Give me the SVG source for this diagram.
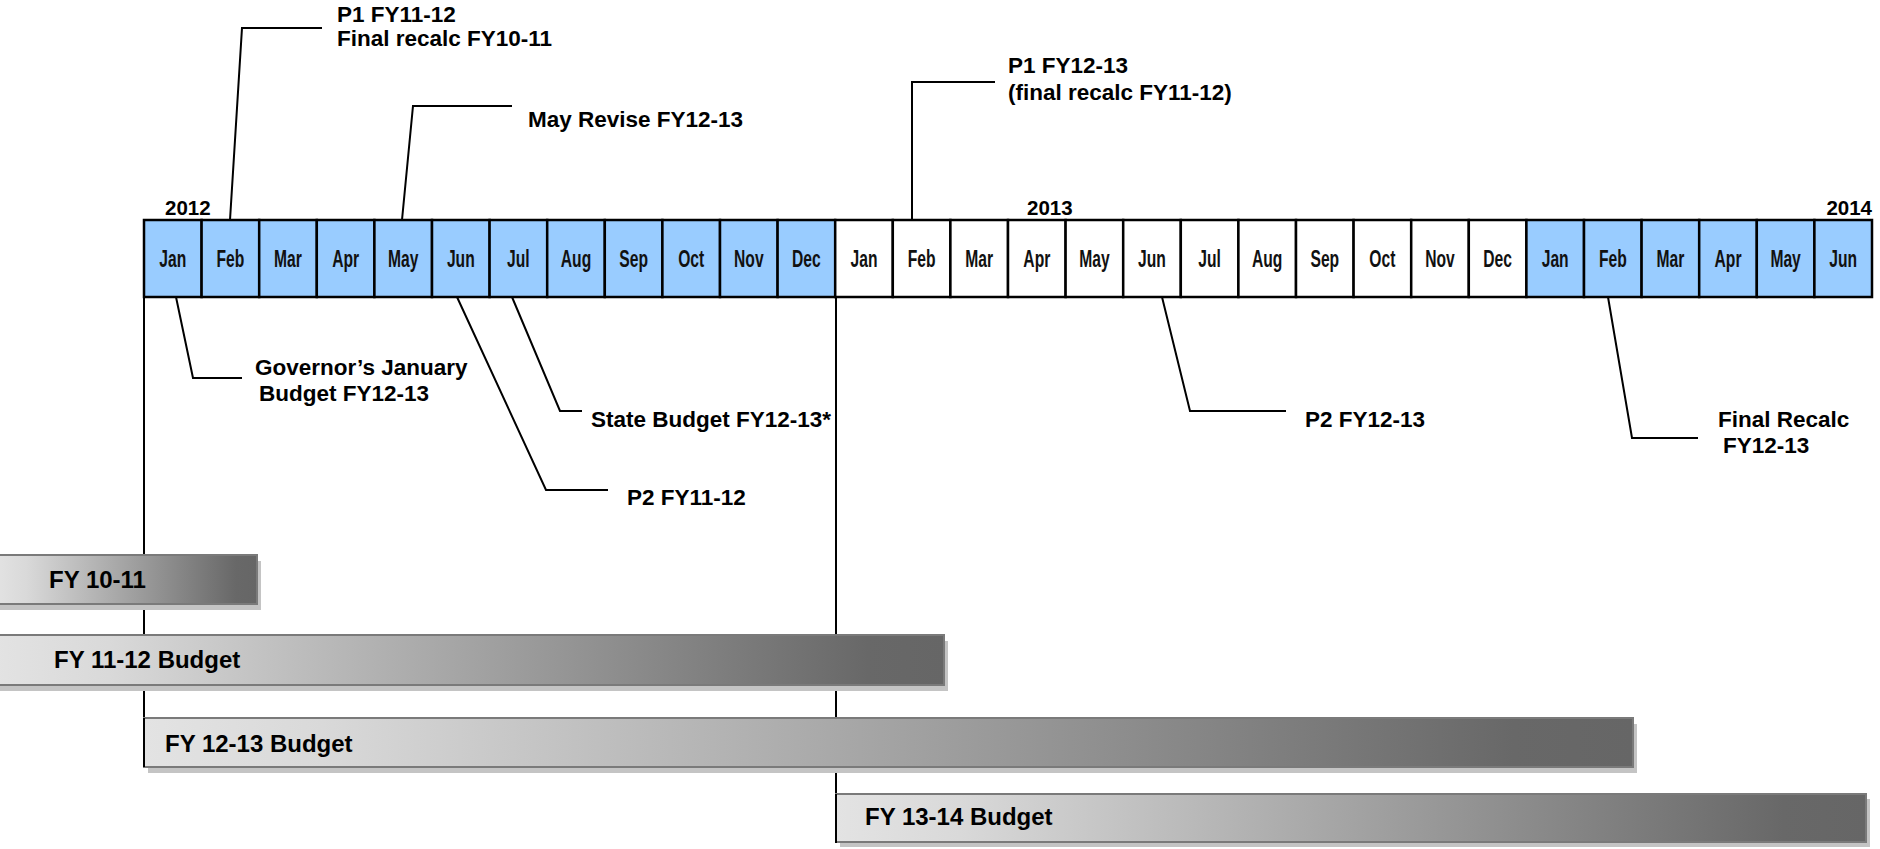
<svg xmlns="http://www.w3.org/2000/svg" width="1880" height="849" viewBox="0 0 1880 849">
<defs>
<style>
.lbl{font-family:"Liberation Sans",Arial,sans-serif;font-weight:bold;font-size:22.5px;fill:#000}
.yr{font-family:"Liberation Sans",Arial,sans-serif;font-weight:bold;font-size:20.5px;fill:#000}
.bl{font-family:"Liberation Sans",Arial,sans-serif;font-weight:bold;font-size:24px;fill:#000}
.mo{font-family:"Liberation Sans",Arial,sans-serif;font-weight:bold;font-size:23px;fill:#111;text-anchor:middle}
.cb{fill:#99CCFF;stroke:#000;stroke-width:2.5}
.cw{fill:#fff;stroke:#000;stroke-width:2.5}
.ln{fill:none;stroke:#000;stroke-width:2}
.bar{fill:url(#g);stroke:#7a7a7a;stroke-width:2}
.sh{fill:#c4c4c4}
</style>
<linearGradient id="g" x1="0" y1="0" x2="1" y2="0">
<stop offset="0" stop-color="#e3e3e3"/>
<stop offset="0.12" stop-color="#d9d9d9"/>
<stop offset="0.92" stop-color="#686868"/>
<stop offset="1" stop-color="#666"/>
</linearGradient>
</defs>
<rect width="1880" height="849" fill="#fff"/>

<g id="connectors">
<line class="ln" x1="144" y1="297" x2="144" y2="767"/>
<line class="ln" x1="836" y1="297" x2="836" y2="843"/>
<polyline class="ln" points="230,220 242,28 322,28"/>
<polyline class="ln" points="402,220 413,106 512,106"/>
<polyline class="ln" points="912,220 912,82 995,82"/>
<polyline class="ln" points="176,297 193,378 242,378"/>
<polyline class="ln" points="457,297 546,490 608,490"/>
<polyline class="ln" points="512,297 560,411 582,411"/>
<polyline class="ln" points="1162,297 1190,411 1286,411"/>
<polyline class="ln" points="1608,297 1632,438 1698,438"/>
</g>

<g id="years">
<text class="yr" x="165" y="215">2012</text>
<text class="yr" x="1027" y="215">2013</text>
<text class="yr" x="1872" y="215" text-anchor="end">2014</text>
</g>

<g id="timeline">
<rect class="cb" x="144" y="220" width="57.6" height="77"/>
<rect class="cb" x="201.6" y="220" width="57.6" height="77"/>
<rect class="cb" x="259.2" y="220" width="57.6" height="77"/>
<rect class="cb" x="316.8" y="220" width="57.6" height="77"/>
<rect class="cb" x="374.4" y="220" width="57.6" height="77"/>
<rect class="cb" x="432" y="220" width="57.6" height="77"/>
<rect class="cb" x="489.6" y="220" width="57.6" height="77"/>
<rect class="cb" x="547.2" y="220" width="57.6" height="77"/>
<rect class="cb" x="604.8" y="220" width="57.6" height="77"/>
<rect class="cb" x="662.4" y="220" width="57.6" height="77"/>
<rect class="cb" x="720" y="220" width="57.6" height="77"/>
<rect class="cb" x="777.6" y="220" width="57.6" height="77"/>
<rect class="cw" x="835.2" y="220" width="57.6" height="77"/>
<rect class="cw" x="892.8" y="220" width="57.6" height="77"/>
<rect class="cw" x="950.4" y="220" width="57.6" height="77"/>
<rect class="cw" x="1008" y="220" width="57.6" height="77"/>
<rect class="cw" x="1065.6" y="220" width="57.6" height="77"/>
<rect class="cw" x="1123.2" y="220" width="57.6" height="77"/>
<rect class="cw" x="1180.8" y="220" width="57.6" height="77"/>
<rect class="cw" x="1238.4" y="220" width="57.6" height="77"/>
<rect class="cw" x="1296" y="220" width="57.6" height="77"/>
<rect class="cw" x="1353.6" y="220" width="57.6" height="77"/>
<rect class="cw" x="1411.2" y="220" width="57.6" height="77"/>
<rect class="cw" x="1468.8" y="220" width="57.6" height="77"/>
<rect class="cb" x="1526.4" y="220" width="57.6" height="77"/>
<rect class="cb" x="1584" y="220" width="57.6" height="77"/>
<rect class="cb" x="1641.6" y="220" width="57.6" height="77"/>
<rect class="cb" x="1699.2" y="220" width="57.6" height="77"/>
<rect class="cb" x="1756.8" y="220" width="57.6" height="77"/>
<rect class="cb" x="1814.4" y="220" width="57.6" height="77"/>
<text class="mo" transform="translate(172.8,267) scale(0.68,1)">Jan</text>
<text class="mo" transform="translate(230.4,267) scale(0.68,1)">Feb</text>
<text class="mo" transform="translate(288,267) scale(0.68,1)">Mar</text>
<text class="mo" transform="translate(345.6,267) scale(0.68,1)">Apr</text>
<text class="mo" transform="translate(403.2,267) scale(0.68,1)">May</text>
<text class="mo" transform="translate(460.8,267) scale(0.68,1)">Jun</text>
<text class="mo" transform="translate(518.4,267) scale(0.68,1)">Jul</text>
<text class="mo" transform="translate(576,267) scale(0.68,1)">Aug</text>
<text class="mo" transform="translate(633.6,267) scale(0.68,1)">Sep</text>
<text class="mo" transform="translate(691.2,267) scale(0.68,1)">Oct</text>
<text class="mo" transform="translate(748.8,267) scale(0.68,1)">Nov</text>
<text class="mo" transform="translate(806.4,267) scale(0.68,1)">Dec</text>
<text class="mo" transform="translate(864,267) scale(0.68,1)">Jan</text>
<text class="mo" transform="translate(921.6,267) scale(0.68,1)">Feb</text>
<text class="mo" transform="translate(979.2,267) scale(0.68,1)">Mar</text>
<text class="mo" transform="translate(1036.8,267) scale(0.68,1)">Apr</text>
<text class="mo" transform="translate(1094.4,267) scale(0.68,1)">May</text>
<text class="mo" transform="translate(1152,267) scale(0.68,1)">Jun</text>
<text class="mo" transform="translate(1209.6,267) scale(0.68,1)">Jul</text>
<text class="mo" transform="translate(1267.2,267) scale(0.68,1)">Aug</text>
<text class="mo" transform="translate(1324.8,267) scale(0.68,1)">Sep</text>
<text class="mo" transform="translate(1382.4,267) scale(0.68,1)">Oct</text>
<text class="mo" transform="translate(1440,267) scale(0.68,1)">Nov</text>
<text class="mo" transform="translate(1497.6,267) scale(0.68,1)">Dec</text>
<text class="mo" transform="translate(1555.2,267) scale(0.68,1)">Jan</text>
<text class="mo" transform="translate(1612.8,267) scale(0.68,1)">Feb</text>
<text class="mo" transform="translate(1670.4,267) scale(0.68,1)">Mar</text>
<text class="mo" transform="translate(1728,267) scale(0.68,1)">Apr</text>
<text class="mo" transform="translate(1785.6,267) scale(0.68,1)">May</text>
<text class="mo" transform="translate(1843.2,267) scale(0.68,1)">Jun</text>
</g>

<g id="label-p1-fy11-12"><text class="lbl" x="337" y="22">P1 FY11-12</text><text class="lbl" x="337" y="46">Final recalc FY10-11</text></g>
<g id="label-may-revise"><text class="lbl" x="528" y="127">May Revise FY12-13</text></g>
<g id="label-p1-fy12-13"><text class="lbl" x="1008" y="73">P1 FY12-13</text><text class="lbl" x="1008" y="100">(final recalc FY11-12)</text></g>
<g id="label-governor"><text class="lbl" x="255" y="375">Governor’s January</text><text class="lbl" x="259" y="401">Budget FY12-13</text></g>
<g id="label-state-budget"><text class="lbl" x="591" y="427">State Budget FY12-13*</text></g>
<g id="label-p2-fy11-12"><text class="lbl" x="627" y="505">P2 FY11-12</text></g>
<g id="label-p2-fy12-13"><text class="lbl" x="1305" y="427">P2 FY12-13</text></g>
<g id="label-final-recalc"><text class="lbl" x="1718" y="427">Final Recalc</text><text class="lbl" x="1723" y="453">FY12-13</text></g>

<g id="bar-fy10-11">
<rect class="sh" x="-1" y="561" width="262" height="49"/>
<rect class="bar" x="-5" y="555" width="262" height="49"/>
<text class="bl" x="49" y="588">FY 10-11</text>
</g>
<g id="bar-fy11-12">
<rect class="sh" x="-1" y="641" width="949" height="50"/>
<rect class="bar" x="-5" y="635" width="949" height="50"/>
<text class="bl" x="54" y="668">FY 11-12 Budget</text>
</g>
<g id="bar-fy12-13">
<rect class="sh" x="148" y="724" width="1489" height="49"/>
<rect class="bar" x="144" y="718" width="1489" height="49"/>
<line class="ln" x1="144" y1="718" x2="144" y2="767"/>
<text class="bl" x="165" y="752">FY 12-13 Budget</text>
</g>
<g id="bar-fy13-14">
<rect class="sh" x="840" y="799" width="1030" height="48"/>
<rect class="bar" x="836" y="794" width="1030" height="48"/>
<line class="ln" x1="836" y1="794" x2="836" y2="843"/>
<text class="bl" x="865" y="825">FY 13-14 Budget</text>
</g>
</svg>
